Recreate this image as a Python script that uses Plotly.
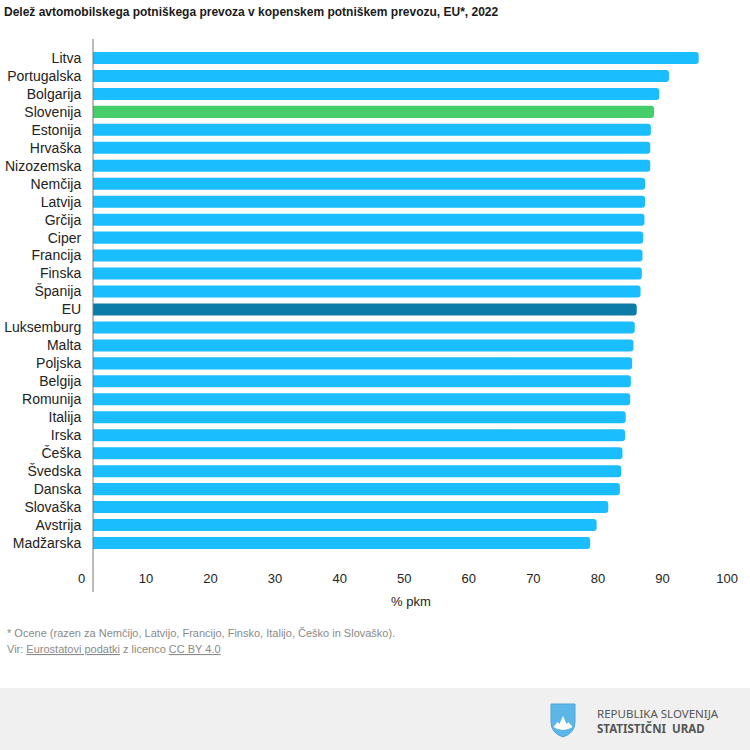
import plotly.graph_objects as go

# ---------------- data ----------------
countries = ["Litva", "Portugalska", "Bolgarija", "Slovenija", "Estonija", "Hrvaška",
             "Nizozemska", "Nemčija", "Latvija", "Grčija", "Ciper", "Francija", "Finska",
             "Španija", "EU", "Luksemburg", "Malta", "Poljska", "Belgija", "Romunija",
             "Italija", "Irska", "Češka", "Švedska", "Danska", "Slovaška", "Avstrija",
             "Madžarska"]
values = [95.6, 91.0, 89.5, 88.7, 88.2, 88.1, 88.1, 87.3, 87.3, 87.2, 87.0, 86.9, 86.8,
          86.6, 86.0, 85.7, 85.5, 85.3, 85.1, 85.0, 84.3, 84.2, 83.8, 83.6, 83.4, 81.6,
          79.8, 78.8]
tick_vals = [10, 20, 30, 40, 50, 60, 70, 80, 90, 100]
tick_text = ["10", "20", "30", "40", "50", "60", "70", "80", "90", "100"]

title_text = "Delež avtomobilskega potniškega prevoza v kopenskem potniškem prevozu, EU*, 2022"
axis_title = "% pkm"
note_text = "* Ocene (razen za Nemčijo, Latvijo, Francijo, Finsko, Italijo, Češko in Slovaško)."
source_text = "Vir: <u>Eurostatovi podatki</u> z licenco <u>CC BY 4.0</u>"

# ---------------- style ----------------
C_MAIN = "#1ABEFF"
C_SI = "#46CE6A"
C_EU = "#0B7CA8"
colors = [C_SI if c == "Slovenija" else C_EU if c == "EU" else C_MAIN for c in countries]

W_FIG, H_FIG = 750, 750
ML, MR, MT, MB = 93, 10, 49, 198
PW = W_FIG - ML - MR
PH = H_FIG - MT - MB
X_MIN, X_MAX = 1.8, 102.0

def fx(px):
    return (px - ML) / PW

def fy(py):
    return (H_FIG - MB - py) / PH

SANS = "Liberation Sans, Arial, sans-serif"
NARROW = "Liberation Sans Narrow, Arial Narrow, Liberation Sans, Arial, sans-serif"

fig = go.Figure()
fig.add_trace(go.Bar(
    x=values, y=countries, orientation="h",
    marker=dict(color=colors, line=dict(width=0), cornerradius=3),
    hoverinfo="x+y",
))

fig.update_layout(
    width=W_FIG, height=H_FIG,
    margin=dict(l=ML, r=MR, t=MT, b=MB, pad=0),
    plot_bgcolor="white", paper_bgcolor="white",
    bargap=0.33,
    showlegend=False,
    font=dict(family=SANS, color="#222222"),
    xaxis=dict(range=[X_MIN, X_MAX], tickvals=tick_vals, ticktext=tick_text,
               showgrid=False, zeroline=False, showline=False, automargin=False,
               ticks="outside", ticklen=14, tickcolor="rgba(0,0,0,0)",
               tickfont=dict(size=13, color="#222222", family=SANS)),
    yaxis=dict(autorange="reversed", showgrid=False, zeroline=False, showline=False,
               automargin=False,
               ticks="outside", ticklen=8, tickcolor="rgba(0,0,0,0)",
               tickfont=dict(size=14, color="#222222", family=SANS)),
)

shapes = []
# vertical axis line
shapes.append(dict(type="line", xref="paper", yref="paper", x0=0, x1=0,
                   y0=fy(592), y1=fy(39), line=dict(color="#777777", width=1)))
# footer band
shapes.append(dict(type="rect", xref="paper", yref="paper", x0=fx(0), x1=fx(750),
                   y0=fy(750), y1=fy(688), fillcolor="#F0F0F0", line=dict(width=0),
                   layer="below"))

def path(points, close=True):
    s = ""
    for cmd, pts in points:
        s += cmd + " " + " ".join(f"{fx(a):.5f},{fy(b):.5f}" for a, b in pts) + " "
    return s + ("Z" if close else "")

shield = path([("M", [(551, 704)]), ("L", [(575, 704)]), ("L", [(575, 722)]),
               ("Q", [(575, 733), (563, 737)]), ("Q", [(551, 733), (551, 722)])])
shapes.append(dict(type="path", xref="paper", yref="paper", path=shield,
                   fillcolor="#5DB6E8", line=dict(color="#4AA6DB", width=1)))
mountain = path([("M", [(553.5, 727)]), ("L", [(557.5, 722)]), ("L", [(559.5, 724)]),
                 ("L", [(563, 716)]), ("L", [(566.5, 724)]), ("L", [(568.5, 722)]),
                 ("L", [(572.5, 727)]), ("Q", [(563, 733), (553.5, 727)])])
shapes.append(dict(type="path", xref="paper", yref="paper", path=mountain,
                   fillcolor="white", line=dict(width=0)))
fig.update_layout(shapes=shapes)

annotations = [
    dict(text=f"<b>{title_text}</b>", xref="paper", yref="paper", x=fx(2), y=fy(12),
         xanchor="left", yanchor="middle", showarrow=False,
         font=dict(size=12, family=NARROW, color="#1a1a1a")),
    dict(text="0", xref="paper", yref="paper",
         x=(0 - X_MIN) / (X_MAX - X_MIN), y=fy(578),
         xanchor="center", yanchor="middle", showarrow=False,
         font=dict(size=13, family=SANS, color="#222222")),
    dict(text=axis_title, xref="x", yref="paper", x=51, y=fy(601),
         xanchor="center", yanchor="middle", showarrow=False,
         font=dict(size=13, family=SANS, color="#222222")),
    dict(text=note_text, xref="paper", yref="paper", x=fx(5), y=fy(633),
         xanchor="left", yanchor="middle", showarrow=False,
         font=dict(size=11, family=SANS, color="#8a8a8a")),
    dict(text=source_text, xref="paper", yref="paper", x=fx(5), y=fy(649),
         xanchor="left", yanchor="middle", showarrow=False,
         font=dict(size=11, family=SANS, color="#8a8a8a")),
    dict(text="REPUBLIKA SLOVENIJA", xref="paper", yref="paper", x=fx(595), y=fy(713),
         xanchor="left", yanchor="middle", showarrow=False,
         font=dict(size=11.5, family="Noto Sans, Open Sans, sans-serif", color="#555555")),
    dict(text="<b>STATISTIČNI  URAD</b>", xref="paper", yref="paper", x=fx(595), y=fy(728),
         xanchor="left", yanchor="middle", showarrow=False,
         font=dict(size=11.5, family="Noto Sans, Open Sans, sans-serif", color="#555555")),
]
fig.update_layout(annotations=annotations)

fig.write_html("out.html",
               config={"displayModeBar": False},
               post_script="document.body.style.margin='0';document.body.style.overflow='hidden';")
